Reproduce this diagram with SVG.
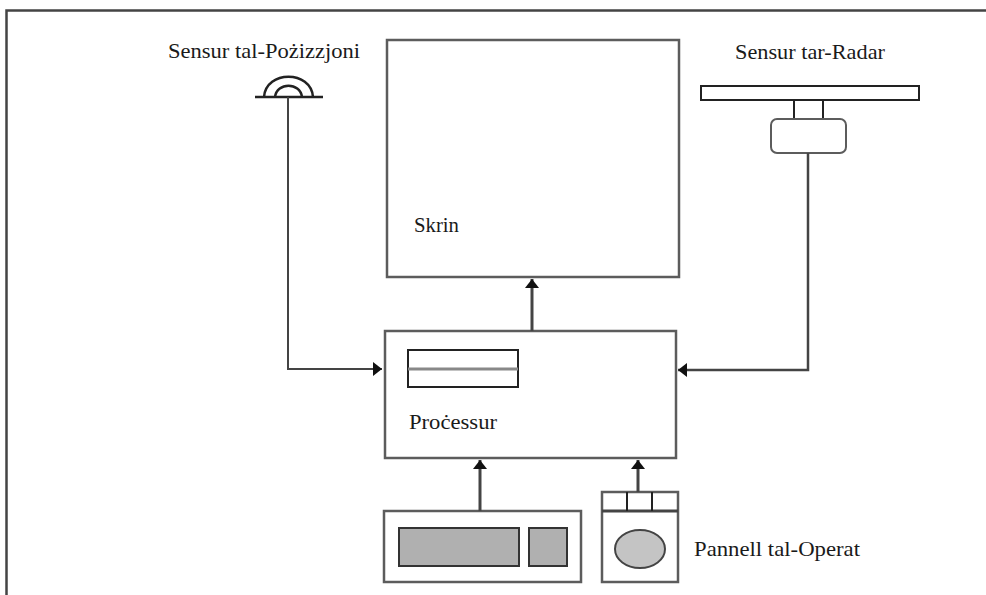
<svg xmlns="http://www.w3.org/2000/svg" width="986" height="595" viewBox="0 0 986 595">
<defs>
<marker id="ah" markerUnits="userSpaceOnUse" markerWidth="14" markerHeight="16" refX="11" refY="8" orient="auto"><path d="M2 1L11 8L2 15Z" fill="#111"/></marker>
</defs>
<style>
.b{fill:#fff;stroke:#5c5c5c;stroke-width:2.500}
.k{fill:none;stroke:#222;stroke-width:2}
.g{fill:#b0b0b0;stroke:#333;stroke-width:2}
.c{fill:none;stroke:#444;stroke-width:2.500}
.t{font-family:"Liberation Serif",serif;font-size:21.500px;fill:#1a1a1a}
</style>
<rect width="986" height="595" fill="#fff"/>
<path id="frame" d="M6.500 595V10.500H986" fill="none" stroke="#444" stroke-width="2.500"/>
<g id="position-sensor">
<text class="t" x="168" y="58" textLength="192" lengthAdjust="spacingAndGlyphs">Sensur tal-Pożizzjoni</text>
<path class="k" style="stroke-width:2.500" d="M255 97H323M264 97C266 70 311 70 313 97M275 97C277 82 300 82 302 97"/>
</g>
<g id="radar-sensor">
<text class="t" x="735" y="59" textLength="150" lengthAdjust="spacingAndGlyphs">Sensur tar-Radar</text>
<rect class="k" x="701" y="86" width="218" height="14" style="fill:#fff"/>
<rect class="k" x="794" y="100" width="29" height="19"/>
<rect class="b" x="771" y="119" width="75" height="34" rx="6" style="stroke-width:2"/>
</g>
<g id="screen">
<rect class="b" x="387" y="40" width="292" height="237"/>
<text class="t" x="414" y="232" textLength="45" lengthAdjust="spacingAndGlyphs">Skrin</text>
</g>
<g id="processor">
<rect class="b" x="385" y="331" width="291" height="127"/>
<rect class="k" x="408" y="350" width="110" height="37"/>
<path d="M408 369H518" stroke="#888" stroke-width="3"/>
<text class="t" x="409" y="429" textLength="88" lengthAdjust="spacingAndGlyphs">Proċessur</text>
</g>
<g id="keyboard">
<rect class="b" x="384" y="511" width="197" height="71"/>
<rect class="g" x="399" y="528" width="120" height="38"/>
<rect class="g" x="529" y="528" width="38" height="38"/>
</g>
<g id="operator-panel">
<rect class="b" x="602" y="492" width="76" height="90"/>
<path d="M602 511H678" stroke="#444" stroke-width="3"/>
<path class="k" d="M627 492V511M652 492V511"/>
<ellipse cx="640" cy="549" rx="25" ry="19" fill="#c4c4c4" stroke="#444" stroke-width="2"/>
<text class="t" x="694" y="556" textLength="166" lengthAdjust="spacingAndGlyphs">Pannell tal-Operat</text>
</g>
<g id="connectors">
<path class="c" d="M288 97V369H382" marker-end="url(#ah)" style="stroke-width:2"/>
<path class="c" d="M808 153V370H678" marker-end="url(#ah)" style="stroke-width:2.500"/>
<path class="c" d="M532 331V279" marker-end="url(#ah)" style="stroke-width:3"/>
<path class="c" d="M480 511V460" marker-end="url(#ah)" style="stroke-width:3"/>
<path class="c" d="M638 492V460" marker-end="url(#ah)" style="stroke-width:3"/>
</g>
</svg>
